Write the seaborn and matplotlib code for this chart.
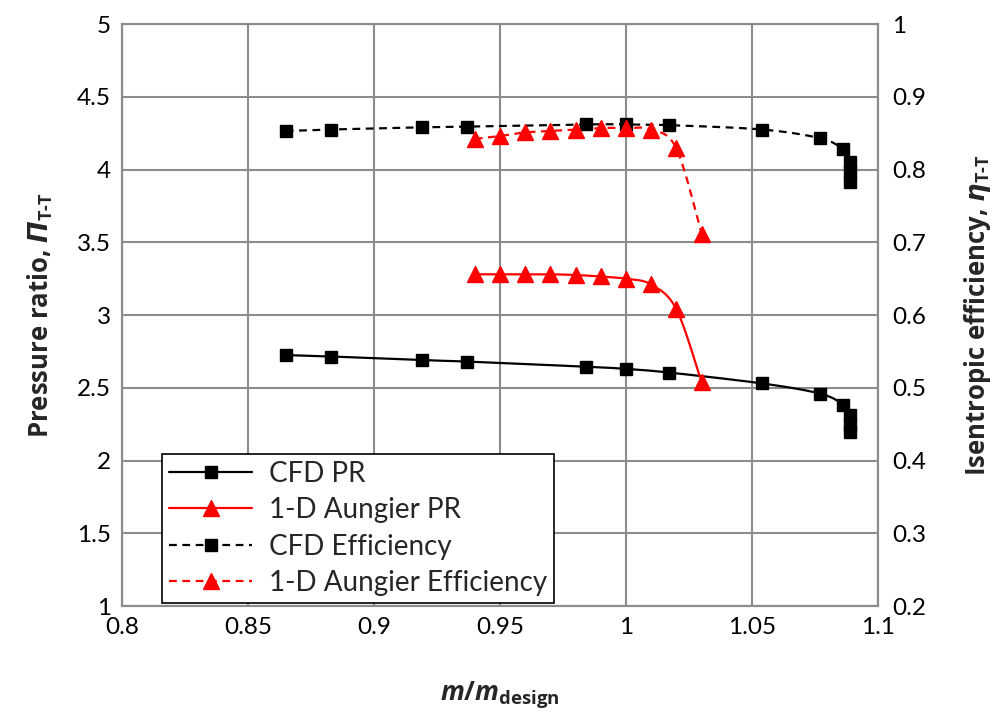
import numpy as np
import matplotlib
matplotlib.use("Agg")
import matplotlib.pyplot as plt
from matplotlib.lines import Line2D
import seaborn as sns

# ---- data ----
cfd_x = [0.865, 0.883, 0.919, 0.937, 0.984, 1.000, 1.017, 1.054, 1.077, 1.086, 1.089, 1.089, 1.089]
cfd_pr = [2.725, 2.715, 2.69, 2.68, 2.645, 2.63, 2.605, 2.53, 2.46, 2.385, 2.31, 2.245, 2.195]
cfd_eff = [0.853, 0.855, 0.858, 0.859, 0.862, 0.862, 0.861, 0.855, 0.843, 0.828, 0.811, 0.797, 0.783]

aun_x = [0.94, 0.95, 0.96, 0.97, 0.98, 0.99, 1.00, 1.01, 1.02, 1.03]
aun_pr = [3.28, 3.28, 3.28, 3.28, 3.275, 3.265, 3.25, 3.21, 3.04, 2.54]
aun_eff = [0.842, 0.846, 0.851, 0.853, 0.855, 0.857, 0.857, 0.855, 0.829, 0.712]

x_ticks = [0.8, 0.85, 0.9, 0.95, 1, 1.05, 1.1]
x_tick_labels = ["0.8", "0.85", "0.9", "0.95", "1", "1.05", "1.1"]
pr_ticks = [1, 1.5, 2, 2.5, 3, 3.5, 4, 4.5, 5]
pr_tick_labels = ["1", "1.5", "2", "2.5", "3", "3.5", "4", "4.5", "5"]
eff_ticks = [0.2, 0.3, 0.4, 0.5, 0.6, 0.7, 0.8, 0.9, 1.0]
eff_tick_labels = ["0.2", "0.3", "0.4", "0.5", "0.6", "0.7", "0.8", "0.9", "1"]

sns.set_theme(style="white")
plt.rcParams["font.family"] = ["Lato", "DejaVu Sans"]
plt.rcParams["mathtext.fontset"] = "custom"
plt.rcParams["mathtext.it"] = "Open Sans:italic:bold"
plt.rcParams["mathtext.rm"] = "Open Sans:bold"
plt.rcParams["mathtext.bf"] = "Open Sans:bold"
plt.rcParams["mathtext.sf"] = "DejaVu Sans:italic:bold"

XR = (0.8, 1.1)
PR_R = (1, 5)
EFF_R = (0.2, 1.0)


def smooth(x, y, yr, n=20):
    """Excel-like smooth line through the points, computed in axes pixel space."""
    px = (np.asarray(x) - XR[0]) / (XR[1] - XR[0]) * 756.0
    py = (np.asarray(y) - yr[0]) / (yr[1] - yr[0]) * 582.0
    P = np.column_stack([px, py])
    P = np.vstack([P[0], P, P[-1]])
    out = []
    for i in range(1, len(P) - 2):
        p0, p1, p2, p3 = P[i - 1], P[i], P[i + 1], P[i + 2]
        c1 = p1 + (p2 - p0) / 6.0
        c2 = p2 - (p3 - p1) / 6.0
        t = np.linspace(0, 1, n)[:, None]
        seg = ((1 - t) ** 3) * p1 + 3 * ((1 - t) ** 2) * t * c1 + 3 * (1 - t) * t ** 2 * c2 + t ** 3 * p2
        out.append(seg if i == 1 else seg[1:])
    out = np.vstack(out)
    sx = out[:, 0] / 756.0 * (XR[1] - XR[0]) + XR[0]
    sy = out[:, 1] / 582.0 * (yr[1] - yr[0]) + yr[0]
    return sx, sy


fig = plt.figure(figsize=(9.95, 7.13), dpi=100)
ax = fig.add_axes([0.1226, 0.150, 0.7598, 0.8163])
ax2 = ax.twinx()

grid_c = "#8c8c8c"
for a in (ax, ax2):
    for s in a.spines.values():
        s.set_color(grid_c)
        s.set_linewidth(1.5)

ax.set_xlim(*XR)
ax.set_ylim(*PR_R)
ax2.set_ylim(*EFF_R)
ax.set_xticks(x_ticks)
ax.set_xticklabels(x_tick_labels)
ax.set_yticks(pr_ticks)
ax.set_yticklabels(pr_tick_labels)
ax2.set_yticks(eff_ticks)
ax2.set_yticklabels(eff_tick_labels)
ax.grid(True, color=grid_c, linewidth=1.5)
ax.set_axisbelow(True)
ax2.grid(False)
for a in (ax, ax2):
    a.tick_params(axis="both", length=0, labelsize=17.5, colors="black", pad=8)
ax2.tick_params(axis="y", pad=10)

lw = 1.6
ms = 9
dash = (3.5, 2.5)

# CFD PR
sx, sy = smooth(cfd_x, cfd_pr, PR_R)
sns.lineplot(x=sx, y=sy, ax=ax, color="black", lw=lw, sort=False, estimator=None)
ax.plot(cfd_x, cfd_pr, ls="none", marker="s", ms=ms, color="black", zorder=5)

# Aungier PR
sx, sy = smooth(aun_x, aun_pr, PR_R)
sns.lineplot(x=sx, y=sy, ax=ax, color="red", lw=lw, sort=False, estimator=None)
ax.plot(aun_x, aun_pr, ls="none", marker="^", ms=ms + 2, color="red", zorder=5)

# CFD efficiency
sx, sy = smooth(cfd_x, cfd_eff, EFF_R)
sns.lineplot(x=sx, y=sy, ax=ax2, color="black", lw=lw, sort=False, estimator=None)
ax2.lines[-1].set_dashes(dash)
ax2.plot(cfd_x, cfd_eff, ls="none", marker="s", ms=ms, color="black", zorder=5)

# Aungier efficiency
sx, sy = smooth(aun_x, aun_eff, EFF_R)
sns.lineplot(x=sx, y=sy, ax=ax2, color="red", lw=lw, sort=False, estimator=None)
ax2.lines[-1].set_dashes(dash)
ax2.plot(aun_x, aun_eff, ls="none", marker="^", ms=ms + 2, color="red", zorder=5)

lab_font = dict(family=["Open Sans", "DejaVu Sans"], weight="bold", size=18.5)
ax.set_xlabel(r"$m/m_{\mathrm{design}}$", fontsize=19, labelpad=30)
ax.set_ylabel(r"Pressure ratio, $\mathsf{\Pi}_{\mathrm{T\text{-}T}}$", fontdict=lab_font, labelpad=16)
ax2.set_ylabel(r"Isentropic efficiency, $\mathsf{\eta}_{\mathrm{T\text{-}T}}$", fontdict=lab_font, labelpad=26)

handles = [
    Line2D([], [], color="black", lw=lw, marker="s", ms=ms),
    Line2D([], [], color="red", lw=lw, marker="^", ms=ms + 2),
    Line2D([], [], color="black", lw=lw, marker="s", ms=ms, dashes=dash),
    Line2D([], [], color="red", lw=lw, marker="^", ms=ms + 2, dashes=dash),
]
labels = ["CFD PR", "1-D Aungier PR", "CFD Efficiency", "1-D Aungier Efficiency"]
leg = ax2.legend(handles, labels, loc="lower left", bbox_to_anchor=(0.053, 0.005),
                 fontsize=20, frameon=True, fancybox=False, edgecolor="black",
                 framealpha=1, borderpad=0.25, labelspacing=0.38, handlelength=3.0,
                 handletextpad=0.6, borderaxespad=0)
leg.get_frame().set_linewidth(1.2)

fig.savefig("out.png", dpi=100)
